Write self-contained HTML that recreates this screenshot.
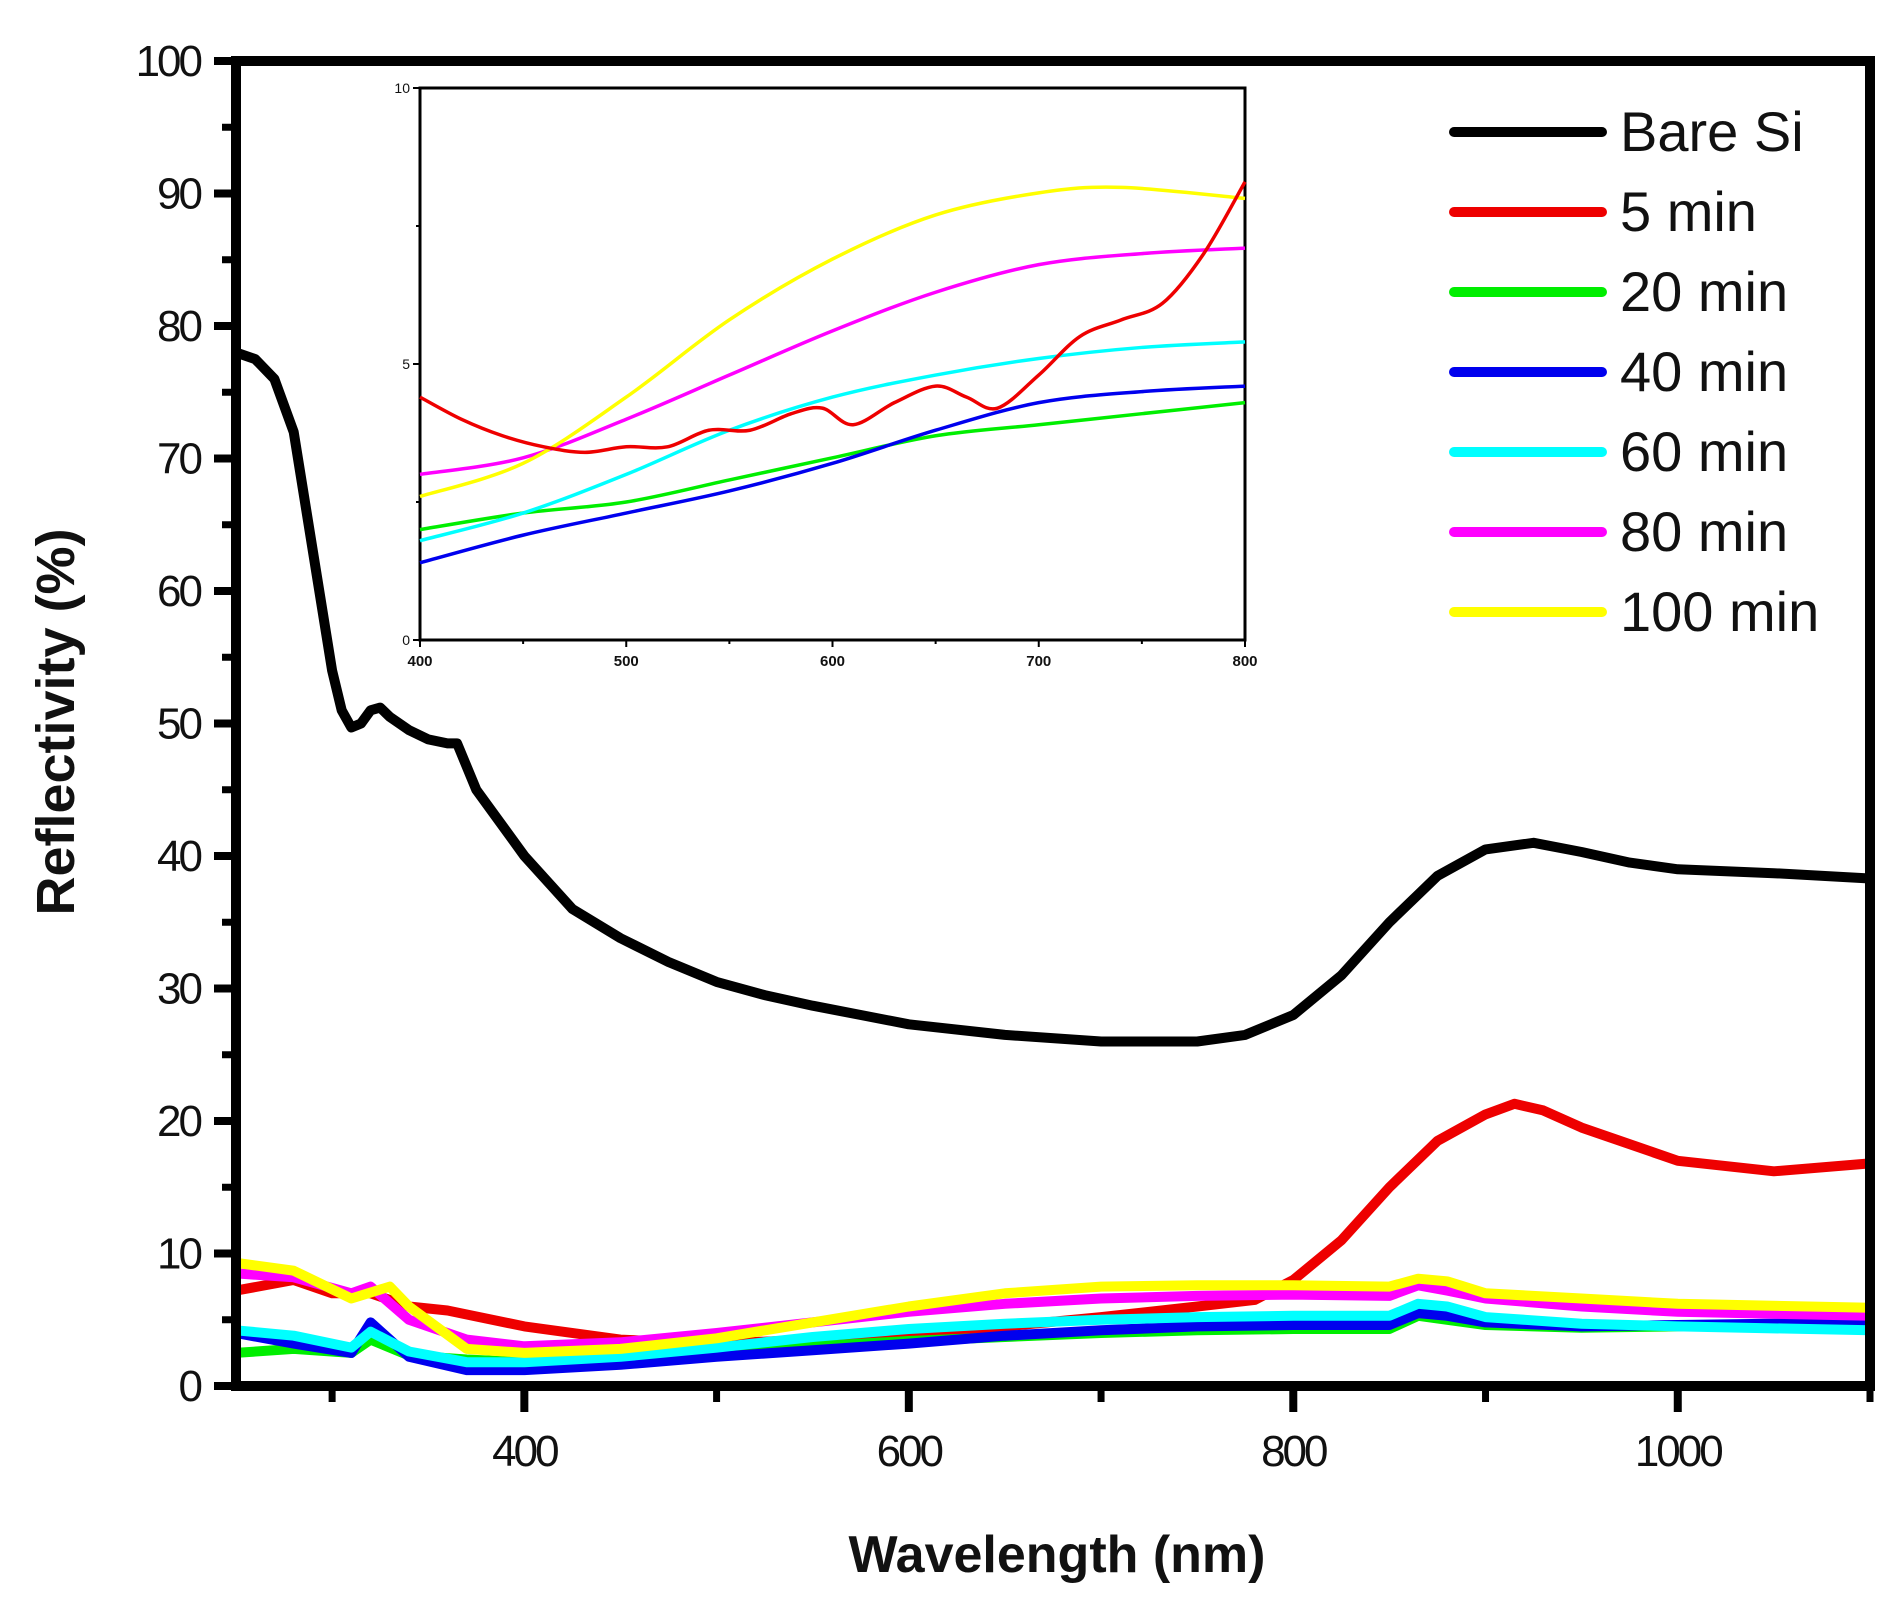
<!DOCTYPE html>
<html><head><meta charset="utf-8"><style>
html,body{margin:0;padding:0;background:#fff;}
svg{display:block;font-family:"Liberation Sans",Arial,sans-serif;}
</style></head><body>
<svg id="chart" width="1903" height="1598" viewBox="0 0 1903 1598" xmlns="http://www.w3.org/2000/svg">
<g id="main"></g>
<g id="inset"></g>
<g id="legend"></g>
<text x="0" y="0" transform="translate(74,722) rotate(-90)" text-anchor="middle" font-size="54" font-weight="bold" fill="#111">Reflectivity (%)</text>
<text x="1057" y="1572" text-anchor="middle" font-size="52" font-weight="bold" fill="#111">Wavelength (nm)</text>
</svg>
<script>
const xTicks=[400,600,800,1000];
const xMinor=[300,500,700,900,1100];
const yTicks=[0,10,20,30,40,50,60,70,80,90,100];
const seriesNames=["Bare Si","5 min","20 min","40 min","60 min","80 min","100 min"];
const seriesColors=["#000000","#ee0000","#00ee00","#0000ee","#00ffff","#ff00ff","#ffff00"];
const bareSiX=[250,260,270,280,290,300,305,310,315,320,325,330,340,350,360,365,375,400,425,450,475,500,525,550,575,600,650,700,750,775,800,825,850,875,900,925,950,975,1000,1050,1100];
const bareSiY=[78,77.5,76,72,63,54,51,49.7,50,51,51.2,50.5,49.5,48.8,48.5,48.5,45,40,36,33.8,32,30.5,29.5,28.7,28,27.3,26.5,26,26,26.5,28,31,35,38.5,40.5,41,40.3,39.5,39,38.7,38.3];
const min5X=[250,280,300,320,340,360,400,450,500,550,600,650,700,750,780,800,825,850,875,900,915,930,950,1000,1050,1100];
const min5Y=[7.2,8,7,7,6,5.7,4.5,3.5,3.2,3.5,4,4.5,5.2,6,6.5,8,11,15,18.5,20.5,21.3,20.8,19.5,17,16.2,16.8];
const commonX=[250,280,310,320,340,370,400,450,500,550,600,650,700,750,800,850,865,880,900,950,1000,1100];
const min20Y=[2.5,2.8,2.5,3.5,2.3,2,1.8,2,2.5,3,3.4,3.7,4,4.2,4.3,4.3,5.3,5,4.6,4.4,4.5,4.6];
const min40Y=[4,3.2,2.5,4.8,2.2,1.2,1.2,1.6,2.2,2.7,3.2,3.8,4.2,4.5,4.6,4.6,5.5,5.3,4.8,4.5,4.6,4.8];
const min60Y=[4.2,3.8,2.9,4.1,2.6,1.8,1.8,2.2,2.9,3.7,4.3,4.7,5,5.2,5.3,5.3,6.2,6,5.2,4.7,4.5,4.2];
const min80Y=[8.5,8.2,7,7.5,5,3.5,3,3.3,4,4.8,5.6,6.2,6.6,6.8,6.9,6.8,7.6,7.2,6.6,6,5.6,5.3];
const min100X=[250,280,310,330,340,370,400,450,500,550,600,650,700,750,800,850,865,880,900,950,1000,1100];
const min100Y=[9.3,8.7,6.6,7.5,6,2.8,2.5,2.8,3.6,4.8,6,7,7.5,7.6,7.6,7.5,8.1,7.9,7,6.6,6.2,5.9];
// inset
const insetXTicks=[400,500,600,700,800];
const insetYTicks=[0,5,10];
const inRedX=[400,420,440,460,480,500,520,540,560,580,595,610,630,650,665,680,700,720,740,760,780,800];
const inRedY=[4.4,4,3.7,3.5,3.4,3.5,3.5,3.8,3.8,4.1,4.2,3.9,4.3,4.6,4.4,4.2,4.8,5.5,5.8,6.1,7,8.3];
const inX=[400,450,500,550,600,650,700,750,800];
const inYellowX=[400,450,500,550,600,650,700,740,800];
const inYellowY=[2.6,3.2,4.4,5.8,6.9,7.7,8.1,8.2,8.0];
const inMagentaY=[3,3.3,4,4.8,5.6,6.3,6.8,7.0,7.1];
const inCyanY=[1.8,2.3,3,3.8,4.4,4.8,5.1,5.3,5.4];
const inBlueY=[1.4,1.9,2.3,2.7,3.2,3.8,4.3,4.5,4.6];
const inGreenY=[2,2.3,2.5,2.9,3.3,3.7,3.9,4.1,4.3];

const NS="http://www.w3.org/2000/svg";
function mk(parent,tag,attrs){const e=document.createElementNS(NS,tag);for(const k in attrs)e.setAttribute(k,attrs[k]);parent.appendChild(e);return e;}
const L=236,R=1870,T=61,B=1386;
const sx=v=>L+(v-250)/(1100-250)*(R-L);
const sy=v=>B-v/100*(B-T);
const main=document.getElementById('main');
function linePath(xs,ys,fx,fy){return xs.map((x,i)=>(i?'L':'M')+fx(x).toFixed(1)+' '+fy(ys[i]).toFixed(1)).join(' ');}
function smoothPath(xs,ys,fx,fy){const p=xs.map((x,i)=>[fx(x),fy(ys[i])]);let d='M'+p[0][0]+' '+p[0][1];for(let i=0;i<p.length-1;i++){const p0=p[Math.max(0,i-1)],p1=p[i],p2=p[i+1],p3=p[Math.min(p.length-1,i+2)];d+=' C'+(p1[0]+(p2[0]-p0[0])/6)+' '+(p1[1]+(p2[1]-p0[1])/6)+' '+(p2[0]-(p3[0]-p1[0])/6)+' '+(p2[1]-(p3[1]-p1[1])/6)+' '+p2[0]+' '+p2[1];}return d;}
const mainSeries=[[bareSiX,bareSiY,0],[min5X,min5Y,1],[commonX,min20Y,2],[commonX,min40Y,3],[commonX,min60Y,4],[commonX,min80Y,5],[min100X,min100Y,6]];
mainSeries.forEach(s=>{const p=mk(main,'path',{d:linePath(s[0],s[1],sx,sy),fill:'none',stroke:seriesColors[s[2]],'stroke-width':10,'stroke-linejoin':'round','stroke-linecap':'round'});

});
const fr=mk(main,'rect',{x:L,y:T,width:R-L,height:B-T,fill:'none',stroke:'#000','stroke-width':10});


yTicks.forEach(v=>{mk(main,'line',{x1:L-22,x2:L,y1:sy(v),y2:sy(v),stroke:'#000','stroke-width':8});
const t=mk(main,'text',{x:L-36,y:sy(v)+15,'text-anchor':'end','font-size':44,fill:'#111','letter-spacing':'-3'});t.textContent=v;


if(v<100)mk(main,'line',{x1:L-14,x2:L,y1:sy(v+5),y2:sy(v+5),stroke:'#000','stroke-width':7});});
xTicks.forEach(v=>{mk(main,'line',{x1:sx(v),x2:sx(v),y1:B,y2:B+26,stroke:'#000','stroke-width':8});
const t=mk(main,'text',{x:sx(v),y:B+80,'text-anchor':'middle','font-size':44,fill:'#111','letter-spacing':'-3'});t.textContent=v;

});
xMinor.forEach(v=>mk(main,'line',{x1:sx(v),x2:sx(v),y1:B,y2:B+16,stroke:'#000','stroke-width':7}));
const inset=document.getElementById('inset');
const iL=420,iR=1245,iT=88,iB=640;
const ix=v=>iL+(v-400)/400*(iR-iL), iy=v=>iB-v/10*(iB-iT);
const ib=mk(inset,'rect',{x:iL,y:iT,width:iR-iL,height:iB-iT,fill:'#fff',stroke:'#000','stroke-width':3});


const insetSeries=[[inX,inGreenY,2],[inX,inBlueY,3],[inX,inCyanY,4],[inX,inMagentaY,5],[inYellowX,inYellowY,6],[inRedX,inRedY,1]];
insetSeries.forEach(s=>{const p=mk(inset,'path',{d:smoothPath(s[0],s[1],ix,iy),fill:'none',stroke:seriesColors[s[2]],'stroke-width':3.5});

});
insetXTicks.forEach(v=>{mk(inset,'line',{x1:ix(v),x2:ix(v),y1:iB,y2:iB+7,stroke:'#000','stroke-width':2});
if(v<800)mk(inset,'line',{x1:ix(v+50),x2:ix(v+50),y1:iB,y2:iB+4,stroke:'#000','stroke-width':2});
const t=mk(inset,'text',{x:ix(v),y:iB+26,'text-anchor':'middle','font-size':15,'font-weight':'bold',fill:'#111'});t.textContent=v;

});
insetYTicks.forEach(v=>{mk(inset,'line',{x1:iL-7,x2:iL,y1:iy(v),y2:iy(v),stroke:'#000','stroke-width':2});
if(v<10)mk(inset,'line',{x1:iL-4,x2:iL,y1:iy(v+2.5),y2:iy(v+2.5),stroke:'#000','stroke-width':2});
const t=mk(inset,'text',{x:iL-10,y:iy(v)+5,'text-anchor':'end','font-size':14,fill:'#111'});t.textContent=v;

});
const lg=document.getElementById('legend');
seriesNames.forEach((n,i)=>{const y=132+i*80;const g=mk(lg,'g',{});


mk(g,'line',{x1:1454,x2:1602,y1:y,y2:y,stroke:seriesColors[i],'stroke-width':10,'stroke-linecap':'round'});
const t=mk(g,'text',{x:1620,y:y+19,'font-size':56,fill:'#111'});t.textContent=n;});
</script>
</body></html>
